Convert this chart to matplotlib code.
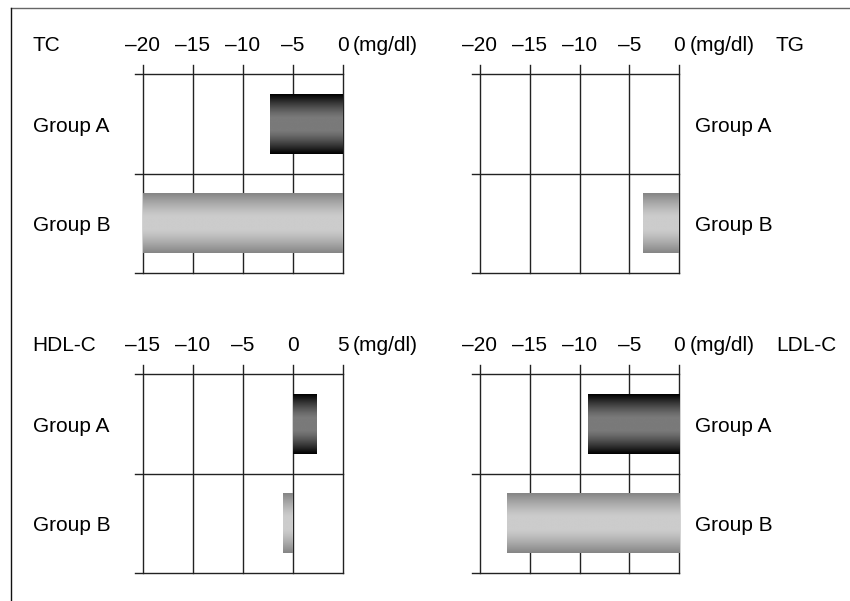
import numpy as np
import matplotlib
matplotlib.use("Agg")
import matplotlib.pyplot as plt
from matplotlib.lines import Line2D
import matplotlib.transforms as mtransforms

plt.rcParams['font.family'] = ['Liberation Sans', 'DejaVu Sans']

# ---- data ----
groups = ["Group A", "Group B"]
tc_values = [-7.3, -20.0]
tg_values = [0.0, -3.6]
hdl_values = [2.4, -1.0]
ldl_values = [-9.2, -17.3]
ticks_neg = [-20, -15, -10, -5, 0]
ticks_hdl = [-15, -10, -5, 0, 5]
tick_labels_neg = ["\u201320", "\u201315", "\u201310", "\u20135", "0"]
tick_labels_hdl = ["\u201315", "\u201310", "\u20135", "0", "5"]
unit = "(mg/dl)"

W, H = 850, 601
fig = plt.figure(figsize=(W / 100, H / 100), dpi=100)


def rect(left_px, top_px, w_px=200.0, h_px=199.6):
    return [left_px / W, (H - top_px - h_px) / H, w_px / W, h_px / H]


panels = [
    dict(name="TC", values=tc_values, ticks=ticks_neg, labels=tick_labels_neg,
         rect=rect(142.7, 73.7), side="left"),
    dict(name="TG", values=tg_values, ticks=ticks_neg, labels=tick_labels_neg,
         rect=rect(479.5, 73.7), side="right"),
    dict(name="HDL-C", values=hdl_values, ticks=ticks_hdl, labels=tick_labels_hdl,
         rect=rect(142.7, 373.7), side="left"),
    dict(name="LDL-C", values=ldl_values, ticks=ticks_neg, labels=tick_labels_neg,
         rect=rect(479.5, 373.7), side="right"),
]

# (edge gray, center gray) for each group
bar_styles = [(0.0, 0.48), (0.52, 0.80)]


def gradient(edge, center, n=256):
    t = np.abs(np.linspace(-1, 1, n))
    v = np.clip((1 - t) / 0.8, 0, 1)
    v = 1 - (1 - v) ** 1.3
    g = edge + (center - edge) * v
    return np.repeat(g[:, None], 2, axis=1)


FS = 15
grid_color = "#222222"

for p in panels:
    ax = fig.add_axes(p["rect"])
    ax.axis("off")
    ypos = np.arange(len(groups))
    bars = ax.barh(ypos, p["values"], height=0.6, color="none",
                   edgecolor="none", zorder=3)
    for bar, (edge, center) in zip(bars, bar_styles):
        x0 = bar.get_x()
        w = bar.get_width()
        y0 = bar.get_y()
        h = bar.get_height()
        if w == 0:
            continue
        ax.imshow(gradient(edge, center), cmap="gray", vmin=0, vmax=1,
                  extent=[min(x0, x0 + w), max(x0, x0 + w), y0 + h, y0],
                  aspect="auto", interpolation="bilinear", zorder=3)
    ax.set_xlim(p["ticks"][0], p["ticks"][-1])
    ax.set_ylim(ypos[-1] + 0.5, ypos[0] - 0.5)

    for t in p["ticks"]:
        ax.axvline(t, ymin=0, ymax=1.045, color=grid_color, lw=1.0,
                   clip_on=False, zorder=1)
    for yy in list(ypos - 0.5) + [ypos[-1] + 0.5]:
        ax.axhline(yy, xmin=-0.0385, xmax=1, color=grid_color, lw=1.0,
                   clip_on=False, zorder=1)

    tx = mtransforms.blended_transform_factory(ax.transData, ax.transAxes)
    for t, lab in zip(p["ticks"], p["labels"]):
        ax.text(t, 1.115, lab, transform=tx, ha="center", va="baseline",
                fontsize=FS)
    ax.text(1.05, 1.115, unit, transform=ax.transAxes, ha="left",
            va="baseline", fontsize=FS)

    ty = mtransforms.blended_transform_factory(ax.transAxes, ax.transData)
    if p["side"] == "left":
        ax.text(-0.55, 1.115, p["name"], transform=ax.transAxes, ha="left",
                va="baseline", fontsize=FS)
        gx = -0.55
    else:
        ax.text(1.482, 1.115, p["name"], transform=ax.transAxes, ha="left",
                va="baseline", fontsize=FS)
        gx = 1.08
    for yi, g in zip(ypos, groups):
        ax.text(gx, yi + 0.08, g, transform=ty, ha="left", va="baseline",
                fontsize=FS)

# outer frame (top and left edges)
fig.add_artist(Line2D([10.5 / W, 1.0], [1 - 7.5 / H, 1 - 7.5 / H],
                      transform=fig.transFigure, color="#666666", lw=1.0))
fig.add_artist(Line2D([10.5 / W, 10.5 / W], [0.0, 1 - 7.5 / H],
                      transform=fig.transFigure, color="#111111", lw=1.0))

fig.savefig("out.png", dpi=100)
